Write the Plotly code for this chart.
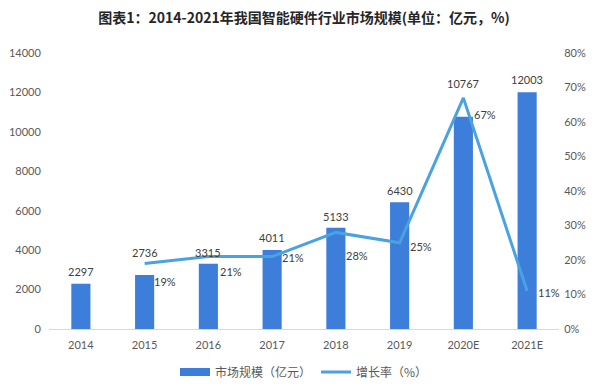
import plotly.graph_objects as go

categories = ["2014", "2015", "2016", "2017", "2018", "2019", "2020E", "2021E"]
market_size = [2297, 2736, 3315, 4011, 5133, 6430, 10767, 12003]
bar_label_shift = [12, 23, 11, 12, 11, 12, 33, 13]
growth_cats = ["2015", "2016", "2017", "2018", "2019", "2020E", "2021E"]
growth_rate = [0.19, 0.21, 0.21, 0.28, 0.25, 0.67, 0.11]
growth_labels = ["19%", "21%", "21%", "28%", "25%", "67%", "11%"]
label_shift_x = [20, 23, 21, 21, 21, 22, 22]
label_shift_y = [-18, -15, -1, -23, -4, -17, -1]

BAR = "#3D7EDB"
LINE = "#4AA2E0"
TXT = "#404040"
FONT = "Lato, 'Noto Sans CJK SC', sans-serif"
CJK = "'Noto Sans CJK SC', sans-serif"

fig = go.Figure()
fig.add_trace(go.Bar(
    x=categories, y=market_size, name="市场规模（亿元）", showlegend=False,
    marker=dict(color=BAR, line=dict(width=0)),
))
fig.add_trace(go.Scatter(
    x=[None], y=[None], name="市场规模（亿元）", mode="lines",
    line=dict(color=BAR, width=8),
))
fig.add_trace(go.Scatter(
    x=growth_cats, y=growth_rate, name="增长率（%）", yaxis="y2",
    mode="lines", line=dict(color=LINE, width=3),
))
for i, (v, dy) in enumerate(zip(market_size, bar_label_shift)):
    fig.add_annotation(x=i, y=v, xref="x", yref="y", text=str(v), showarrow=False,
                       yshift=dy, font=dict(size=11, color=TXT, family=FONT))
for c, v, t, dx, dy in zip(growth_cats, growth_rate, growth_labels, label_shift_x, label_shift_y):
    fig.add_annotation(x=categories.index(c), y=v, xref="x", yref="y2", text=t, showarrow=False,
                       xshift=dx, yshift=dy, font=dict(size=11, color=TXT, family=FONT))

# the page body adds an 8px offset, so the figure is 8px smaller than the window
fig.update_layout(
    width=592, height=378,
    margin=dict(l=41, r=41, t=45, b=57, autoexpand=False),
    paper_bgcolor="white", plot_bgcolor="white",
    font=dict(family=FONT, size=11, color="#595959"),
    title=dict(text="<b>图表1：2014-2021年我国智能硬件行业市场规模(单位：亿元，%)</b>",
               x=0.5, xanchor="center", y=0.974, yanchor="middle",
               font=dict(size=14, color="#262626", family=CJK)),
    bargap=0.7,
    xaxis=dict(type="category", range=[-0.5, 7.5], showgrid=False, showline=True,
               linecolor="#D9D9D9", linewidth=1, ticks="outside", ticklen=6,
               tickcolor="rgba(0,0,0,0)", automargin=False,
               tickfont=dict(size=11, color="#595959")),
    yaxis=dict(range=[0, 14000], dtick=2000, tickformat="d", showgrid=False, zeroline=False,
               showline=False, ticks="outside", ticklen=5, tickcolor="rgba(0,0,0,0)",
               automargin=False, tickfont=dict(size=11, color="#595959")),
    yaxis2=dict(range=[0, 0.8], dtick=0.1, tickformat=".0%", overlaying="y", side="right",
                showgrid=False, zeroline=False, showline=False, automargin=False,
                ticks="outside", ticklen=2, tickcolor="rgba(0,0,0,0)",
                tickfont=dict(size=11, color="#595959")),
    legend=dict(orientation="h", x=0.5, xanchor="center", y=-0.156, yanchor="middle",
                font=dict(size=12, color="#595959", family=CJK),
                traceorder="normal"),
    showlegend=True,
)

fig.write_html("out.html")
